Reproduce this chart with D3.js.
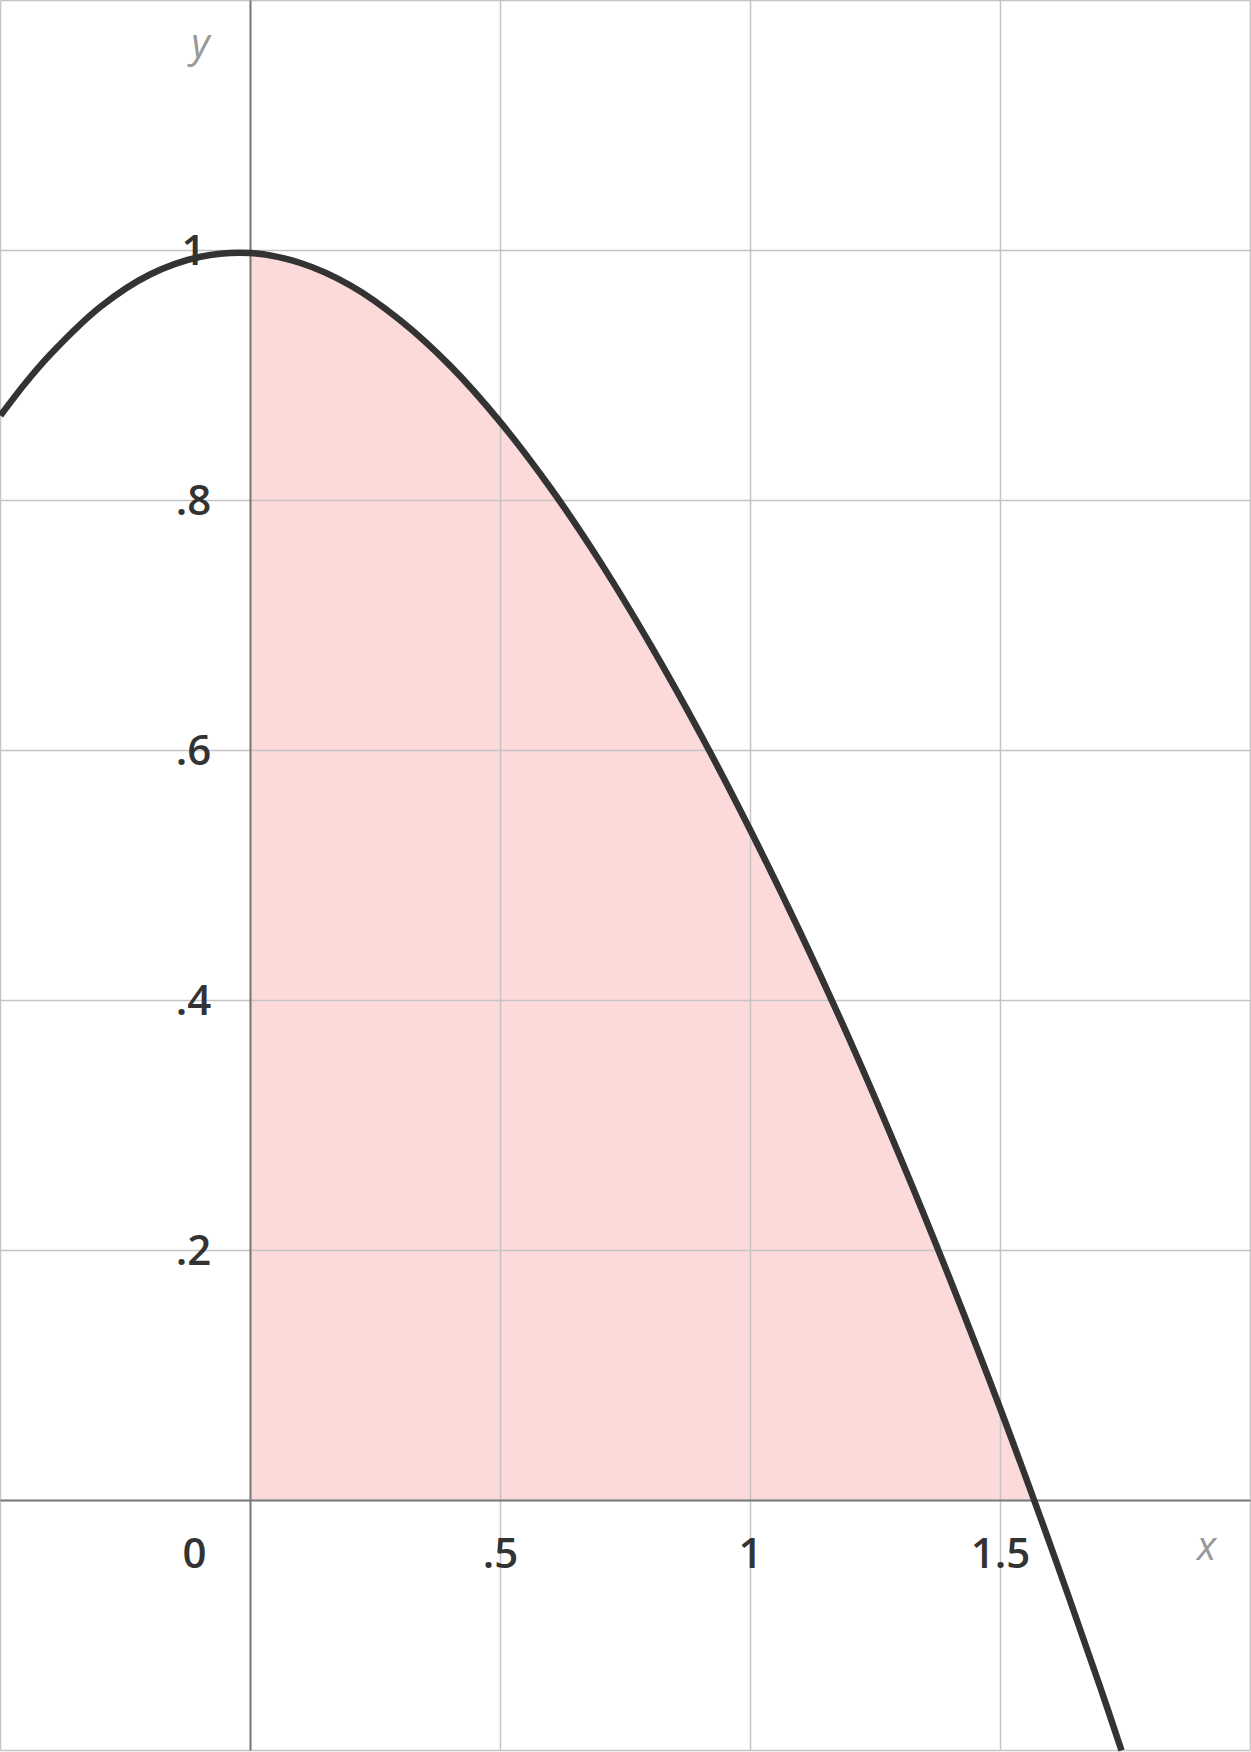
<!DOCTYPE html>
<html>
<head>
<meta charset="utf-8">
<script src="https://cdn.jsdelivr.net/npm/d3@7/dist/d3.min.js"></script>
<style>
  html, body { margin: 0; padding: 0; background: #fff; }
  svg { display: block; }
  text { font-family: "Open Sans", Lato, "DejaVu Sans", sans-serif; }
</style>
</head>
<body>
<svg id="chart" width="1251" height="1752"></svg>
<script>
// ---- data ----
const curveX = [-0.5, -0.45, -0.4, -0.3, -0.2, -0.1, 0, 0.1, 0.2, 0.3, 0.4, 0.5, 0.6, 0.7, 0.8, 0.9, 1.0, 1.1, 1.2, 1.3, 1.4, 1.5, 1.6, 1.7, 1.742];
const curveY = [0.868, 0.894, 0.917, 0.955, 0.981, 0.995, 0.998, 0.990, 0.972, 0.944, 0.9075, 0.8625, 0.810, 0.7505, 0.6845, 0.613, 0.536, 0.454, 0.367, 0.274, 0.176, 0.073, -0.036, -0.150, -0.2];
const fillRange = [0, 1.567];
const xDomain = [-0.5, 2];
const yDomain = [-0.2, 1.2];
const xGrid = [-0.5, 0, 0.5, 1, 1.5, 2];
const yGrid = [-0.2, 0, 0.2, 0.4, 0.6, 0.8, 1, 1.2];
const xTickValues = [0.5, 1, 1.5];
const xTickLabels = [".5", "1", "1.5"];
const yTickValues = [0.2, 0.4, 0.6, 0.8, 1];
const yTickLabels = [".2", ".4", ".6", ".8", "1"];
const originLabel = "0";
const axisNames = ["x", "y"];

// ---- drawing ----
const W = 1251, H = 1752;
const svg = d3.select("#chart");
const x = d3.scaleLinear().domain(xDomain).range([0.5, 1250.5]);
const y = d3.scaleLinear().domain(yDomain).range([1750.5, 0.5]);

const pts = curveX.map((v, i) => ({ x: v, y: curveY[i] }));
const defs = svg.append("defs");
defs.append("clipPath").attr("id", "fillClip")
  .append("rect")
  .attr("x", x(fillRange[0])).attr("y", 0)
  .attr("width", x(fillRange[1]) - x(fillRange[0]))
  .attr("height", y(0));
defs.append("clipPath").attr("id", "plotClip")
  .append("rect").attr("x", 0).attr("y", 0).attr("width", W).attr("height", H);

const interp = d3.curveCatmullRom.alpha(0.5);

// shaded area
const area = d3.area().x(d => x(d.x)).y0(y(0)).y1(d => y(d.y)).curve(interp);
svg.append("path").datum(pts)
  .attr("d", area)
  .attr("fill", "#fcdada")
  .attr("clip-path", "url(#fillClip)");

// grid
svg.append("g").selectAll("line").data(xGrid).join("line")
  .attr("x1", d => x(d)).attr("x2", d => x(d))
  .attr("y1", y(yDomain[1])).attr("y2", y(yDomain[0]))
  .attr("stroke", "#c4c4c4").attr("stroke-width", 1.5);
svg.append("g").selectAll("line").data(yGrid).join("line")
  .attr("y1", d => y(d)).attr("y2", d => y(d))
  .attr("x1", x(xDomain[0])).attr("x2", x(xDomain[1]))
  .attr("stroke", "#c4c4c4").attr("stroke-width", 1.5);

// axes
svg.append("line")
  .attr("x1", x(0)).attr("x2", x(0)).attr("y1", y(yDomain[1])).attr("y2", y(yDomain[0]))
  .attr("stroke", "#7a7a7a").attr("stroke-width", 2);
svg.append("line")
  .attr("y1", y(0)).attr("y2", y(0)).attr("x1", x(xDomain[0])).attr("x2", x(xDomain[1]))
  .attr("stroke", "#7a7a7a").attr("stroke-width", 2);

// curve
const line = d3.line().x(d => x(d.x)).y(d => y(d.y)).curve(interp);
svg.append("path").datum(pts)
  .attr("d", line)
  .attr("fill", "none")
  .attr("stroke", "#333")
  .attr("stroke-width", 6.5)
  .attr("clip-path", "url(#plotClip)");

// tick labels
const fs = 42;
svg.append("g").selectAll("text").data(yTickValues).join("text")
  .attr("x", x(-0.114))
  .attr("y", d => y(d) + 14)
  .attr("text-anchor", "middle")
  .attr("font-size", fs)
  .attr("font-weight", 600)
  .attr("fill", "#333")
  .text((d, i) => yTickLabels[i]);

svg.append("g").selectAll("text").data(xTickValues).join("text")
  .attr("x", d => x(d))
  .attr("y", y(0) + 67)
  .attr("text-anchor", "middle")
  .attr("font-size", fs)
  .attr("font-weight", 600)
  .attr("fill", "#333")
  .text((d, i) => xTickLabels[i]);

svg.append("text")
  .attr("x", x(-0.112)).attr("y", y(0) + 67)
  .attr("text-anchor", "middle").attr("font-size", fs).attr("font-weight", 600)
  .attr("fill", "#333")
  .text(originLabel);

// axis names
svg.append("text")
  .attr("x", x(1.912)).attr("y", y(0) + 59)
  .attr("text-anchor", "middle").attr("font-size", 40).attr("font-style", "italic")
  .attr("fill", "#999").text(axisNames[0]);
svg.append("text")
  .attr("x", x(-0.1)).attr("y", y(1.2) + 56)
  .attr("text-anchor", "middle").attr("font-size", 40).attr("font-style", "italic")
  .attr("fill", "#999").text(axisNames[1]);
</script>
</body>
</html>
